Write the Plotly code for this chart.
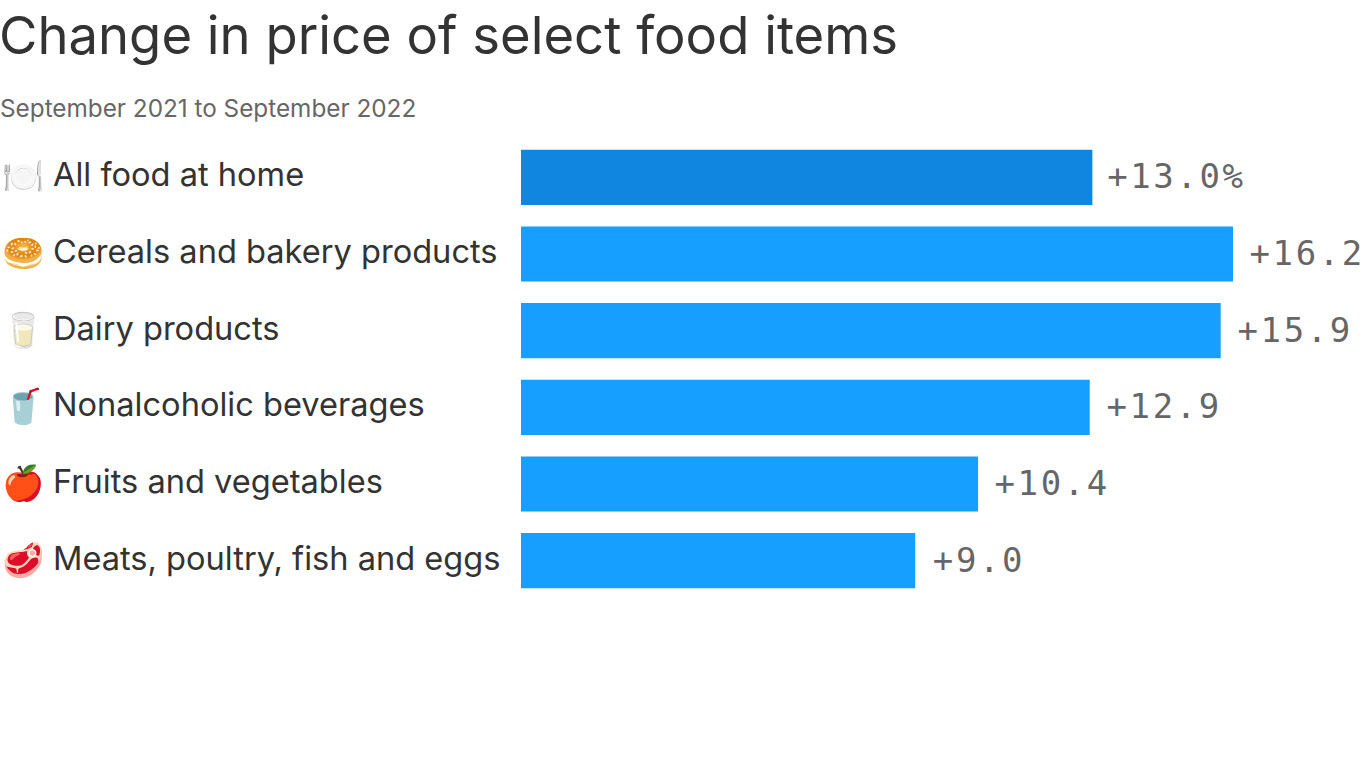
import plotly.graph_objects as go

categories = ["All food at home", "Cereals and bakery products", "Dairy products",
              "Nonalcoholic beverages", "Fruits and vegetables", "Meats, poultry, fish and eggs"]
emoji = ["🍽️", "🥯", "🥛", "🥤", "🍎", "🥩"]
values = [13.0, 16.2, 15.92, 12.94, 10.4, 8.97]
labels = ["+13.0%", "+16.2", "+15.9", "+12.9", "+10.4", "+9.0"]
colors = ["#1186e0", "#179fff", "#179fff", "#179fff", "#179fff", "#179fff"]

L, R, T, B = 521, 133, 139, 169
PW, PH = 1366 - L - R, 768 - T - B


def px(x):
    return (x - L) / PW


def py(y):
    return 1 - (y - T) / PH


fig = go.Figure(go.Bar(
    y=categories, x=values, orientation="h", marker=dict(color=colors, line_width=0),
    cliponaxis=False, width=0.72))

for e, c, v, t in zip(emoji, categories, values, labels):
    fig.add_annotation(xref="paper", x=px(0), y=c, yref="y", yshift=2, text=e, showarrow=False,
                       xanchor="left", font=dict(size=34))
    fig.add_annotation(xref="paper", x=px(51), y=c, yref="y", yshift=3, text=c, showarrow=False,
                       xanchor="left", font=dict(family="Inter", size=32.6, color="#333333"))
    fig.add_annotation(x=v, y=c, xref="x", yref="y", xshift=21, yshift=1, text=t, showarrow=False,
                       xanchor="left", font=dict(family="DejaVu Sans Mono", size=34, color="#666666"))

fig.add_annotation(xref="paper", yref="paper", x=px(-3), y=py(35), yanchor="middle",
                   text="Change in price of select food items",
                   showarrow=False, xanchor="left", font=dict(family="Inter", size=52.6, color="#333333"))
fig.add_annotation(xref="paper", yref="paper", x=px(-2), y=py(108), yanchor="middle",
                   text="September 2021 to September 2022",
                   showarrow=False, xanchor="left", font=dict(family="Inter", size=24.3, color="#666666"))

fig.update_layout(
    width=1366, height=768, paper_bgcolor="white", plot_bgcolor="white", showlegend=False,
    margin=dict(l=L, r=R, t=T, b=B),
    xaxis=dict(visible=False, range=[0, 16.2]),
    yaxis=dict(visible=False, autorange="reversed"))
post = """
document.body.style.margin = '0';
document.documentElement.style.overflow = 'hidden';
document.querySelectorAll('.annotation-text').forEach(function (n) {
  if ((n.style.fontFamily || '').indexOf('Mono') >= 0) {
    n.style.letterSpacing = '2.6px';
  }
});
"""
fig.write_html("out.html", post_script=post, config={"displayModeBar": False})
